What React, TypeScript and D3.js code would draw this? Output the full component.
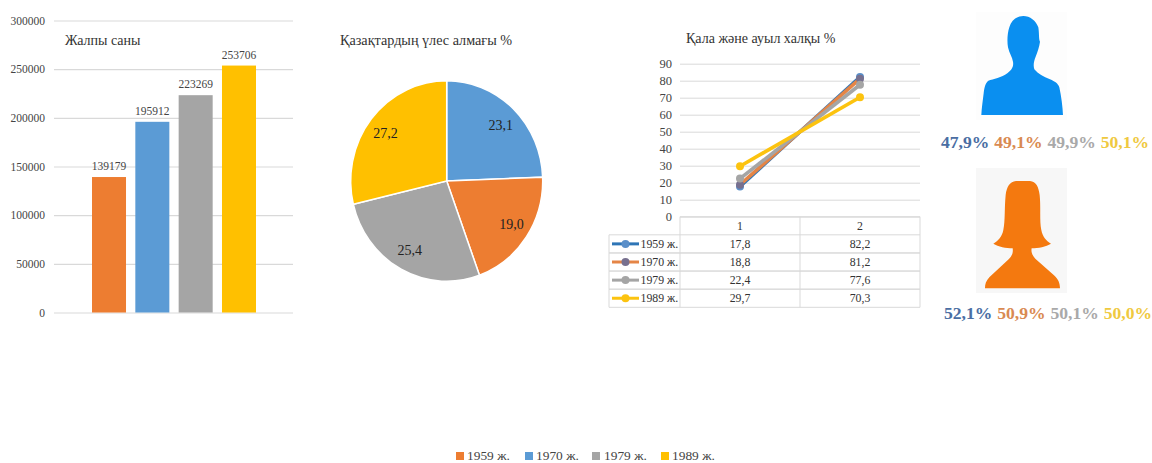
import React, { useEffect, useRef } from "react";
import * as d3 from "d3";

const years = ["1959 ж.", "1970 ж.", "1979 ж.", "1989 ж."];
const totals = [139179, 195912, 223269, 253706];
const totalTicks = [0, 50000, 100000, 150000, 200000, 250000, 300000];
const barColors = ["#ed7d31", "#5b9bd5", "#a5a5a5", "#ffc000"];

const pieLabels = ["23,1", "19,0", "25,4", "27,2"];
const shares = [23.1, 19.0, 25.4, 27.2];
const pieColors = ["#5b9bd5", "#ed7d31", "#a5a5a5", "#ffc000"];

const lineCategories = ["1", "2"];
const urban = [17.8, 18.8, 22.4, 29.7];
const rural = [82.2, 81.2, 77.6, 70.3];
const lineTicks = [0, 10, 20, 30, 40, 50, 60, 70, 80, 90];
const lineColors = ["#2e75b6", "#e58546", "#a5a5a5", "#fcc30f"];
const markerColors = ["#5b8fc9", "#77708f", "#a5a5a5", "#fcc30f"];

const malePct = ["47,9%", "49,1%", "49,9%", "50,1%"];
const femalePct = ["52,1%", "50,9%", "50,1%", "50,0%"];
const pctColors = ["#4a6ea3", "#d98a52", "#a9a9a9", "#efc93f"];

// silhouettes, 3x units
const maleIcon =
  "M280 48C262 48 244 60 238 82C232 100 231 125 234 142C238 160 247 172 249 185C251 198 248 208 232 220C215 232 190 238 175 242C166 250 163 262 161 280C158 305 155 325 154 345L399 345C398 320 394 290 388 262C384 250 375 245 360 238C340 230 325 222 313 208C309 195 312 182 317 170C323 155 328 140 330 125C326 118 328 100 325 82C318 62 300 48 280 48Z";
const femaleIcon =
  "M258 543C240 545 230 560 227 585C223 625 226 660 220 690C216 710 205 722 190 731C205 740 228 745 248 745C250 758 246 768 236 778L178 832C168 843 165 853 165 865L390 865C390 850 385 838 372 826L316 776C306 766 303 755 305 745C325 745 348 740 363 731C348 722 338 710 334 690C328 660 333 625 329 585C326 560 318 545 300 543Z";

const serif = "'Liberation Serif', 'Times New Roman', serif";

export default function App() {
  const svgRef = useRef<SVGSVGElement | null>(null);

  useEffect(() => {
    const svg = d3.select(svgRef.current);
    svg.selectAll("*").remove();
    svg.attr("font-family", serif);

    const title = (x: number, y: number, txt: string, size: number) =>
      svg
        .append("text")
        .attr("x", x)
        .attr("y", y)
        .attr("font-size", size)
        .attr("fill", "#333")
        .text(txt);

    // bars
    const barX = d3
      .scaleBand<string>()
      .domain(years)
      .range([92, 256])
      .paddingInner(0.215)
      .paddingOuter(0);
    const barY = d3.scaleLinear().domain([0, 300000]).range([312.5, 20.5]);

    const barAxis = svg
      .append("g")
      .attr("transform", "translate(54,0)")
      .call(
        d3
          .axisLeft(barY)
          .tickValues(totalTicks)
          .tickFormat((d) => String(d))
          .tickSize(-239)
          .tickPadding(9)
      );
    barAxis.select(".domain").remove();
    barAxis.selectAll("line").attr("stroke", "#d9d9d9").attr("stroke-width", 1.2);
    barAxis
      .selectAll("text")
      .attr("font-family", serif)
      .attr("font-size", 11.5)
      .attr("fill", "#444");

    svg
      .selectAll(".bar")
      .data(totals)
      .enter()
      .append("rect")
      .attr("class", "bar")
      .attr("x", (_, i) => barX(years[i]) as number)
      .attr("y", (d) => barY(d))
      .attr("width", barX.bandwidth())
      .attr("height", (d) => barY(0) - barY(d))
      .attr("fill", (_, i) => barColors[i]);

    svg
      .selectAll(".barLabel")
      .data(totals)
      .enter()
      .append("text")
      .attr("class", "barLabel")
      .attr("x", (_, i) => (barX(years[i]) as number) + barX.bandwidth() / 2)
      .attr("y", (d) => barY(d) - 7)
      .attr("text-anchor", "middle")
      .attr("font-size", 11.5)
      .attr("fill", "#444")
      .text((d) => d);

    title(65, 45, "Жалпы саны", 14);

    // pie
    const pieG = svg.append("g").attr("transform", "translate(446.7,181)");
    const arcs = d3.pie<number>().sort(null)(shares);
    const arc = d3.arc<d3.PieArcDatum<number>>().innerRadius(0).outerRadius(96);
    const labelArc = d3.arc<d3.PieArcDatum<number>>().innerRadius(78).outerRadius(78);

    pieG
      .append("g")
      .attr("transform", "scale(1,1.045)")
      .selectAll("path")
      .data(arcs)
      .enter()
      .append("path")
      .attr("d", (d) => arc(d))
      .attr("fill", (_, i) => pieColors[i])
      .attr("stroke", "#fff")
      .attr("stroke-width", 1.5);

    pieG
      .selectAll("text")
      .data(arcs)
      .enter()
      .append("text")
      .attr("transform", (d) => `translate(${labelArc.centroid(d)})`)
      .attr("text-anchor", "middle")
      .attr("dy", "0.35em")
      .attr("font-size", 14)
      .attr("fill", "#222")
      .text((_, i) => pieLabels[i]);

    title(340, 45, "Қазақтардың үлес алмағы %", 14.2);

    // lines
    const lineX = d3.scaleBand<string>().domain(lineCategories).range([680, 920]);
    const lineY = d3.scaleLinear().domain([0, 90]).range([216.7, 63.7]);

    const lineAxis = svg
      .append("g")
      .attr("transform", "translate(680,0)")
      .call(
        d3
          .axisLeft(lineY)
          .tickValues(lineTicks)
          .tickFormat((d) => String(d))
          .tickSize(-240)
          .tickPadding(8)
      );
    lineAxis.select(".domain").remove();
    lineAxis.selectAll("line").attr("stroke", "#d9d9d9").attr("stroke-width", 1);
    lineAxis
      .selectAll("text")
      .attr("font-family", serif)
      .attr("font-size", 12.5)
      .attr("fill", "#444");

    const catX = (c: string) => (lineX(c) as number) + lineX.bandwidth() / 2;
    const line = d3
      .line<number>()
      .x((_, i) => catX(lineCategories[i]))
      .y((d) => lineY(d));

    years.forEach((_, s) => {
      const values = [urban[s], rural[s]];
      svg
        .append("path")
        .attr("d", line(values))
        .attr("fill", "none")
        .attr("stroke", lineColors[s])
        .attr("stroke-width", 3.6);
      svg
        .append("g")
        .selectAll("circle")
        .data(values)
        .enter()
        .append("circle")
        .attr("cx", (_d, i) => catX(lineCategories[i]))
        .attr("cy", (d) => lineY(d))
        .attr("r", 4)
        .attr("fill", markerColors[s]);
    });

    title(686, 43, "Қала және ауыл халқы %", 14);

    // data table under the line chart
    const rowY = d3.scaleBand<string>().domain(["head", ...years]).range([216.7, 307.3]);
    const table = svg.append("g").attr("fill", "none").attr("stroke", "#d9d9d9");
    table.append("path").attr("d", "M680 216.7H920M680 216.7V307.3M800 216.7V307.3M920 216.7V307.3");
    years.forEach((y) => {
      const top = rowY(y) as number;
      table.append("path").attr("d", `M609 ${top}H920M609 ${top + rowY.bandwidth()}H920M609 ${top}V${top + rowY.bandwidth()}`);
    });

    const cell = (x: number, y: number, txt: string, anchor = "middle") =>
      svg
        .append("text")
        .attr("x", x)
        .attr("y", y)
        .attr("dy", "0.35em")
        .attr("text-anchor", anchor)
        .attr("font-size", 11.8)
        .attr("fill", "#333")
        .text(txt);

    lineCategories.forEach((c) => cell(catX(c), (rowY("head") as number) + rowY.bandwidth() / 2, c));
    years.forEach((y, s) => {
      const mid = (rowY(y) as number) + rowY.bandwidth() / 2;
      cell(catX("1"), mid, urban[s].toFixed(1).replace(".", ","));
      cell(catX("2"), mid, rural[s].toFixed(1).replace(".", ","));
      cell(640.5, mid, y, "start");
      svg
        .append("line")
        .attr("x1", 612)
        .attr("x2", 639)
        .attr("y1", mid)
        .attr("y2", mid)
        .attr("stroke", lineColors[s])
        .attr("stroke-width", 3);
      svg.append("circle").attr("cx", 625.5).attr("cy", mid).attr("r", 4).attr("fill", markerColors[s]);
    });

    // silhouettes
    svg.append("rect").attr("x", 976).attr("y", 12).attr("width", 91).attr("height", 108).attr("fill", "#fdfdfd");
    svg.append("rect").attr("x", 976).attr("y", 168).attr("width", 91).attr("height", 125).attr("fill", "#f7f7f7");
    svg.append("path").attr("transform", "translate(930,0) scale(0.3333)").attr("d", maleIcon).attr("fill", "#0a8ff0");
    svg.append("path").attr("transform", "translate(930,0) scale(0.3333)").attr("d", femaleIcon).attr("fill", "#f4790f");

    const pctX = d3.scaleBand<number>().domain([0, 1, 2, 3]).range([941, 1154]);
    const pctRow = (vals: string[], dx: number, y: number) =>
      svg
        .append("g")
        .selectAll("text")
        .data(vals)
        .enter()
        .append("text")
        .attr("x", (_, i) => (pctX(i) as number) + dx)
        .attr("y", y)
        .attr("font-size", 17.6)
        .attr("font-weight", "bold")
        .attr("fill", (_, i) => pctColors[i])
        .text((d) => d);
    pctRow(malePct, 0, 148);
    pctRow(femalePct, 3, 319);

    // bottom legend
    const legendSwatch = [456, 525, 592, 661];
    const legendText = [467, 536, 604, 672];
    years.forEach((y, i) => {
      svg.append("rect").attr("x", legendSwatch[i]).attr("y", 452).attr("width", 8).attr("height", 8).attr("fill", barColors[i]);
      svg
        .append("text")
        .attr("x", legendText[i])
        .attr("y", 460)
        .attr("font-size", 13.4)
        .attr("fill", "#444")
        .text(y);
    });
  }, []);

  return (
    <svg
      ref={svgRef}
      width={1152}
      height={463}
      style={{ position: "absolute", left: 0, top: 0, background: "#fff" }}
    ></svg>
  );
}
